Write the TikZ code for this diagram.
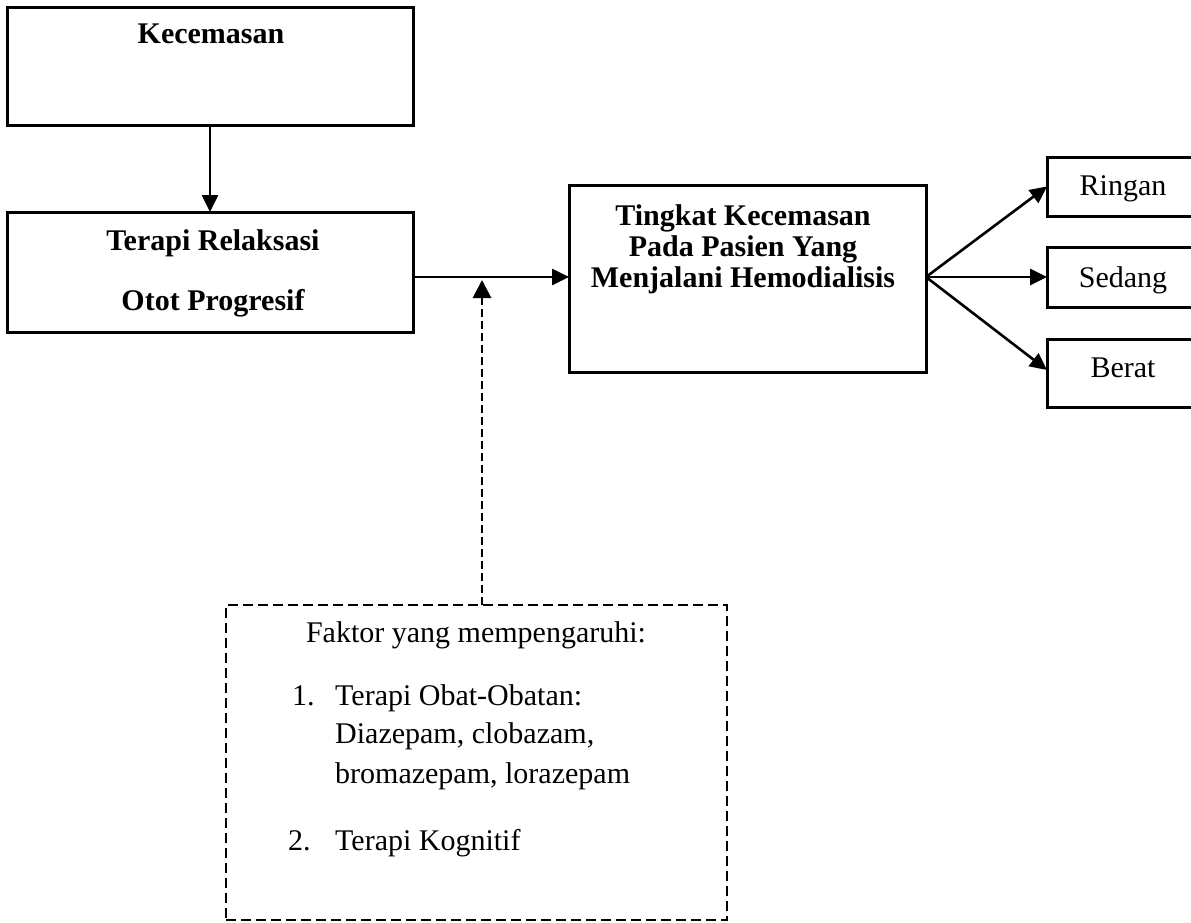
\documentclass[tikz,border=0pt]{standalone}
\usepackage{fontspec}
\setmainfont{Liberation Serif}
\usetikzlibrary{arrows.meta}
\tikzset{
  box/.style={draw, line width=3pt, inner sep=0pt, outer sep=0pt},
  dbox/.style={draw, line width=2.8pt, dash pattern=on 10pt off 5pt, inner sep=0pt, outer sep=0pt},
  bt/.style={font=\fontsize{30}{31}\selectfont\bfseries, anchor=base, inner sep=0pt},
  rt/.style={font=\fontsize{30}{36}\selectfont, anchor=base, inner sep=0pt},
  rtl/.style={font=\fontsize{30}{36}\selectfont, anchor=base west, inner sep=0pt},
  arr/.style={line width=2.6pt, -{Triangle[length=17pt,width=16pt]}},
  darr/.style={line width=2.8pt, dash pattern=on 8pt off 4pt, -{Triangle[length=18pt,width=18pt]}}
}
\begin{document}
\begin{tikzpicture}[x=1pt,y=-1pt]
\useasboundingbox (0,0) rectangle (1191,923);
\clip (0,0) rectangle (1191,923);
% boxes
\node[box, minimum width=406pt, minimum height=118pt] (kec) at (210,67) {};
\node[box, minimum width=406pt, minimum height=120pt] (terapi) at (210,272) {};
\node[box, minimum width=357pt, minimum height=187pt] (tingkat) at (747.5,278.5) {};
\node[box, minimum width=152pt, minimum height=59pt] (ringan) at (1123,186.5) {};
\node[box, minimum width=152pt, minimum height=60pt] (sedang) at (1123,277) {};
\node[box, minimum width=152pt, minimum height=68pt] (berat) at (1123,373) {};
\node[dbox, minimum width=501pt, minimum height=315pt] (faktor) at (476.5,762.5) {};
% texts
\node[bt] (tkec) at (211,44) {Kecemasan};
\node[bt] (tter1) at (213,250) {Terapi Relaksasi};
\node[bt] (tter2) at (213,310) {Otot Progresif};
\node[bt] (tt1) at (743,225) {Tingkat Kecemasan};
\node[bt] (tt2) at (743,256) {Pada Pasien Yang};
\node[bt] (tt3) at (743,287) {Menjalani Hemodialisis};
\node[rt] (tr) at (1123,195) {Ringan};
\node[rt] (ts) at (1123,287) {Sedang};
\node[rt] (tb) at (1123,377) {Berat};
\node[rt] (f0) at (476,642) {Faktor yang mempengaruhi:};
\node[rtl] (n1) at (292,705) {1.};
\node[rtl] (l1) at (335,705) {Terapi Obat-Obatan:};
\node[rtl] (l2) at (335,743) {Diazepam, clobazam,};
\node[rtl] (l3) at (335,783) {bromazepam, lorazepam};
\node[rtl] (n2) at (288,850) {2.};
\node[rtl] (l4) at (335,850) {Terapi Kognitif};
% connectors
\coordinate (j) at (482,277);
\coordinate (f) at (tingkat.east |- j);
\draw[arr] (kec) -- (terapi);
\draw[arr] (terapi.east |- j) -- (tingkat.west |- j);
\draw[arr] (f) -- (ringan.west);
\draw[arr] (f) -- (sedang.west);
\draw[arr] (f) -- ([yshift=3pt]berat.west);
\draw[darr] (faktor.north -| j) -- ([yshift=-3pt]j);
\end{tikzpicture}
\end{document}
